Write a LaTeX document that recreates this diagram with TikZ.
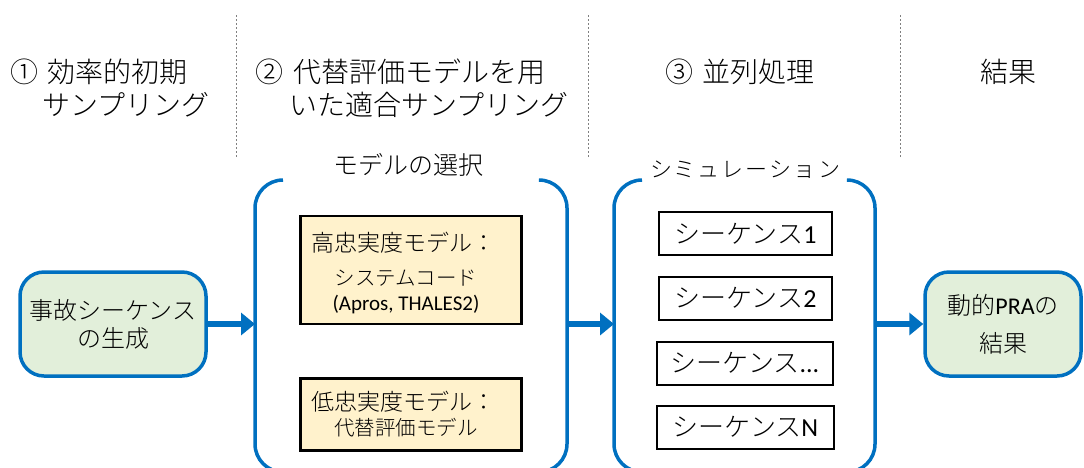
\documentclass[tikz,border=0pt]{standalone}
\usepackage{fontspec}
\setmainfont{Noto Sans CJK JP Light}
\newfontfamily\lat{Carlito}
\usetikzlibrary{arrows.meta,calc}
\definecolor{oblue}{HTML}{0070C0}
\definecolor{lgreen}{HTML}{E2EFDA}
\definecolor{lbeige}{HTML}{FFF2CC}
\begin{document}
\begin{tikzpicture}[x=1pt,y=-1pt,
  hdr/.style={anchor=west,inner sep=0pt,font=\fontsize{28}{32}\selectfont},
  sepline/.style={gray,line width=0.7pt,dash pattern=on 2pt off 2pt},
  gbox/.style={draw=oblue,line width=3.5pt,fill=lgreen,rounded corners=24pt,minimum width=186pt,minimum height=104pt,inner sep=0pt},
  ybox/.style={draw=black,line width=2.5pt,fill=lbeige,minimum width=221pt,inner sep=0pt},
  sbox/.style={draw=black,line width=2pt,fill=white,minimum height=43pt,inner sep=0pt,font=\fontsize{26}{28}\selectfont},
  frame/.style={minimum width=#1,inner sep=0pt,outer sep=0pt,minimum height=292pt,anchor=north west},
  brk/.style={draw=oblue,line width=3.5pt,rounded corners=28pt},
  arr/.style={draw=oblue,line width=5.5pt,-{Triangle[length=14pt,width=22pt]}},
  ttl/.style={inner sep=0pt},
  txt/.style={inner sep=0pt,align=center}
]
\useasboundingbox (0,0) rectangle (1084,467);
\clip (0,0) rectangle (1084,467);

% headers
\node[hdr] (h1a) at (10,72) {①\hspace{9pt}効率的初期};
\node[hdr] (h1b) at (42,105) {サンプリング};
\node[hdr] (h2a) at (255,72) {②\hspace{10pt}代替評価モデルを用};
\node[hdr] (h2b) at (289,105) {いた適合サンプリング};
\node[hdr] (h3) at (665,72) {③\hspace{9pt}並列処理};
\node[hdr] (h4) at (980,72) {結果};

\draw[sepline] (236,15) -- (236,157);
\draw[sepline] (588,15) -- (588,157);
\draw[sepline] (900,15) -- (900,157);

% left box
\node[gbox,txt,font=\fontsize{24}{28}\selectfont] (acc) at (113,324) {事故シーケンス\\の生成};

% model selection frame
\node[frame=312pt] (sel) at (255,180) {};
\draw[brk] ($(sel.north west)+(28,0)$) -- (sel.north west) -- (sel.south west) -- (sel.south east) -- (sel.north east) -- ($(sel.north east)+(-25,0)$);
\node[ttl,font=\fontsize{25}{28}\selectfont] (selt) at (408,165) {モデルの選択};

\node[ybox,minimum height=108pt] (hi) at (411,270) {};
\node[txt,font=\fontsize{23}{26}\selectfont] (hit) at (403,243) {高忠実度モデル：};
\node[txt,font=\fontsize{20.5}{24}\selectfont] (hit2) at (406,278) {システムコード};
\node[txt,font=\lat\fontsize{21}{24}\selectfont] (hit3) at (406,305) {(Apros, THALES2)};

\node[ybox,minimum height=72pt] (lo) at (411,414.5) {};
\node[txt,font=\fontsize{23}{26}\selectfont] (lot) at (403,402) {低忠実度モデル：};
\node[txt,font=\fontsize{20.5}{24}\selectfont] (lot2) at (406,428) {代替評価モデル};

% simulation frame
\node[frame=261pt] (sim) at (614,180) {};
\draw[brk] ($(sim.north west)+(28,0)$) -- (sim.north west) -- (sim.south west) -- (sim.south east) -- (sim.north east) -- ($(sim.north east)+(-25,0)$);
\node[ttl,font=\fontsize{22}{26}\selectfont] (simt) at (745,170) {シ\kern2ptミ\kern2ptュ\kern2ptレ\kern2ptー\kern2ptシ\kern2ptョ\kern2ptン};

\node[sbox,minimum width=173pt] (s1) at (745.5,233.5) {シーケンス{\lat 1}};
\node[sbox,minimum width=173pt] (s2) at (745.5,298) {シーケンス{\lat 2}};
\node[sbox,minimum width=176pt] (s3) at (745,363) {シーケンス{\lat ...}};
\node[sbox,minimum width=177pt] (s4) at (745.5,427) {シーケンス{\lat N}};

% result box
\node[gbox,txt,minimum width=156pt,font=\fontsize{24}{38}\selectfont] (res) at (1003,324) {動的{\lat PRA}の\\結果};

% arrows
\draw[arr] (acc.east) -- (acc.east -| sel.west);
\draw[arr] (sel.east |- acc.east) -- (acc.east -| sim.west);
\draw[arr] (sim.east |- res.west) -- (res.west);
\end{tikzpicture}
\end{document}
